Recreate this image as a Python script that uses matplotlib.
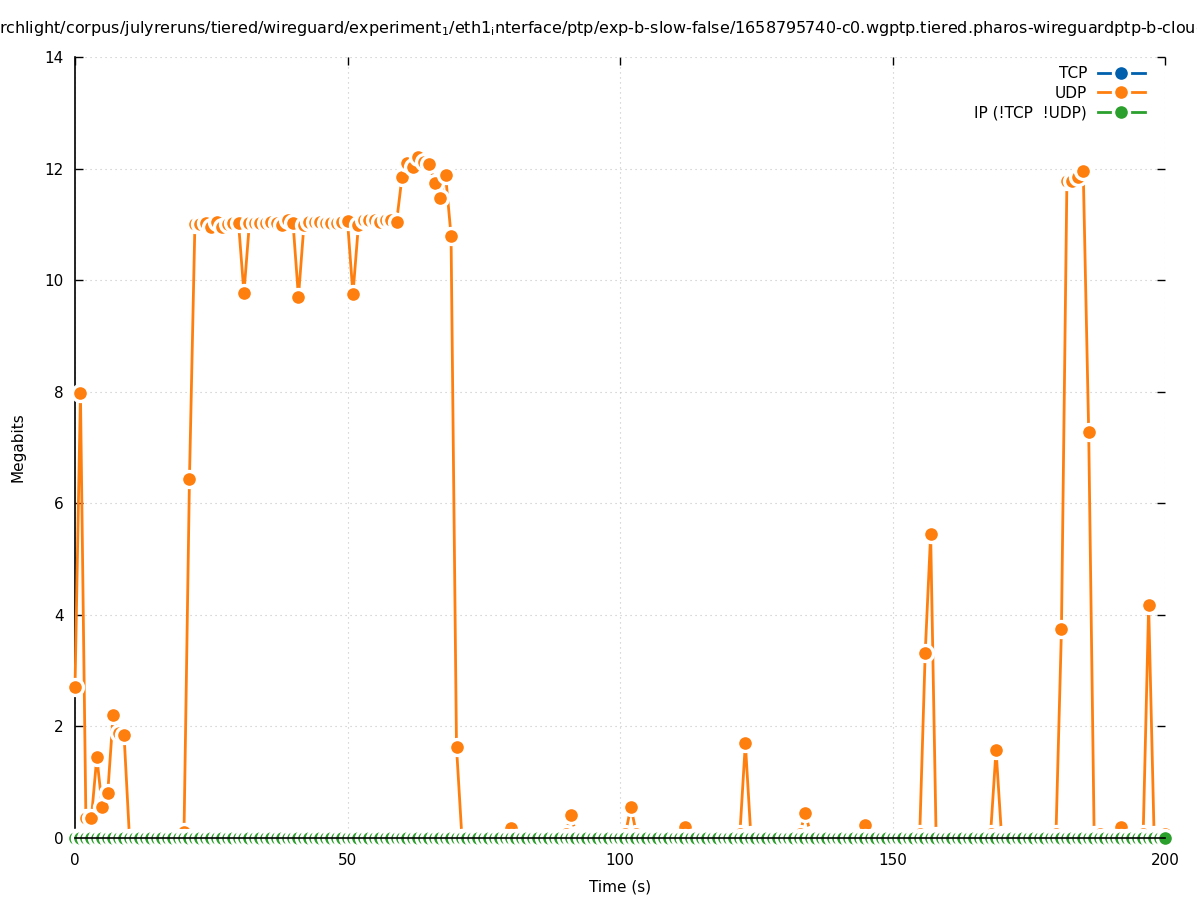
#### Throughput per second by protocol (gnuplot-style linespoints)

## Import Libraries
import numpy as np
import matplotlib
matplotlib.use("Agg")
import matplotlib.pyplot as plt

## Data (Megabits per one-second bin)
seconds = np.arange(0, 201) # One bin per second, 0 .. 200

tcp_mbit = [0.0] * 201 # TCP is flat at zero the whole run
ip_mbit = [0.0] * 201 # Other IP traffic is flat at zero too

udp_mbit = [
    2.70, 7.97, 0.35, 0.35, 1.45, 0.55, 0.80, 2.20, 1.88, 1.85,      # 0-9
    0.00, 0.00, 0.00, 0.00, 0.00, 0.00, 0.00, 0.00, 0.00, 0.00,      # 10-19
    0.10, 6.43, 11.00, 11.00, 11.03, 10.95, 11.05, 10.95, 11.00, 11.02,  # 20-29
    11.03, 9.77, 11.02, 11.03, 11.03, 11.03, 11.05, 11.03, 10.98, 11.07,  # 30-39
    11.03, 9.70, 10.98, 11.05, 11.05, 11.05, 11.03, 11.03, 11.03, 11.05,  # 40-49
    11.06, 9.75, 10.98, 11.07, 11.07, 11.07, 11.05, 11.07, 11.07, 11.04,  # 50-59
    11.85, 12.10, 12.03, 12.21, 12.12, 12.08, 11.75, 11.47, 11.88, 10.80,  # 60-69
    1.63, 0.00, 0.00, 0.00, 0.00, 0.00, 0.00, 0.00, 0.00, 0.00,      # 70-79
    0.18, 0.00, 0.00, 0.00, 0.00, 0.00, 0.00, 0.00, 0.00, 0.00,      # 80-89
    0.08, 0.41, 0.05, 0.00, 0.00, 0.00, 0.00, 0.00, 0.00, 0.00,      # 90-99
    0.00, 0.08, 0.56, 0.08, 0.00, 0.00, 0.00, 0.00, 0.00, 0.00,      # 100-109
    0.00, 0.00, 0.20, 0.00, 0.00, 0.00, 0.00, 0.00, 0.00, 0.00,      # 110-119
    0.00, 0.00, 0.08, 1.70, 0.06, 0.00, 0.00, 0.00, 0.00, 0.00,      # 120-129
    0.00, 0.00, 0.00, 0.08, 0.45, 0.06, 0.00, 0.00, 0.00, 0.00,      # 130-139
    0.00, 0.00, 0.00, 0.00, 0.00, 0.23, 0.00, 0.00, 0.00, 0.00,      # 140-149
    0.00, 0.00, 0.00, 0.00, 0.00, 0.08, 3.32, 5.45, 0.04, 0.00,      # 150-159
    0.00, 0.00, 0.00, 0.00, 0.00, 0.00, 0.00, 0.00, 0.08, 1.58,      # 160-169
    0.05, 0.00, 0.00, 0.00, 0.00, 0.00, 0.00, 0.00, 0.00, 0.00,      # 170-179
    0.08, 3.74, 11.78, 11.78, 11.85, 11.95, 7.27, 0.05, 0.08, 0.00,  # 180-189
    0.00, 0.00, 0.20, 0.00, 0.00, 0.00, 0.08, 4.17, 0.05, 0.00,      # 190-199
    0.08,                                                            # 200
]

series_names = ["TCP", "UDP", "IP (!TCP  !UDP)"]
series_colors = ["#0060ad", "#ff7f0e", "#2ca02c"]

title_text = ("rchlight/corpus/julyreruns/tiered/wireguard/experiment$_1$/eth1$_\\mathregular{i}$nterface"
              "/ptp/exp-b-slow-false/1658795740-c0.wgptp.tiered.pharos-wireguardptp-b-cloud")

## Figure and axes (pixel layout of the reference)
W, H = 1197, 900
fig = plt.figure(figsize=(W / 100, H / 100), dpi=100)
ax = fig.add_axes([75 / W, 1 - 838 / H, (1165 - 75) / W, (838 - 57) / H])

## Lines with white-haloed points, drawn in gnuplot order
for vals, name, col in zip([tcp_mbit, udp_mbit, ip_mbit], series_names, series_colors):
    ax.plot(seconds, vals, color=col, linewidth=2.0, marker="o", markersize=11.5,
            markerfacecolor=col, markeredgecolor="white", markeredgewidth=2.4,
            label=name, clip_on=False, zorder=3)

## Axes limits, ticks, grid
ax.set_xlim(0, 200)
ax.set_ylim(0, 14)
ax.set_xticks([0, 50, 100, 150, 200])
ax.set_yticks(np.arange(0, 15, 2))
ax.tick_params(direction="in", length=6, width=1, top=True, right=True, labelsize=11)
ax.tick_params(axis="x", pad=11)
ax.tick_params(axis="y", pad=8)
ax.grid(True, color="#c4c4c4", linestyle=(0, (1, 3.5)), linewidth=0.8)
ax.set_axisbelow(True)
ax.spines["top"].set_visible(False) # gnuplot border 3: only left and bottom
ax.spines["right"].set_visible(False)
for side in ["left", "bottom"]:
    ax.spines[side].set_linewidth(1.2)
ax.spines["bottom"].set_zorder(10) # Axis line stays on top of the zero points

## Labels and title
fig.text(18 / W, 1 - 447 / H, "Megabits", rotation=90, ha="center", va="center", fontsize=11)
fig.text(620 / W, 1 - 887 / H, "Time (s)", ha="center", va="center", fontsize=11)
fig.text(-1 / W, 1 - 29 / H, title_text, ha="left", va="center", fontsize=11.5)

## Legend (text first, then sample) in the top right corner
ax.legend(loc="upper right", bbox_to_anchor=(1145 / W, 1 - 66 / H), bbox_transform=fig.transFigure,
          frameon=False, markerfirst=False, fontsize=11, handlelength=3.1, handletextpad=0.7,
          labelspacing=0.3, borderpad=0, borderaxespad=0, numpoints=1)

fig.savefig("out.png", dpi=100)
